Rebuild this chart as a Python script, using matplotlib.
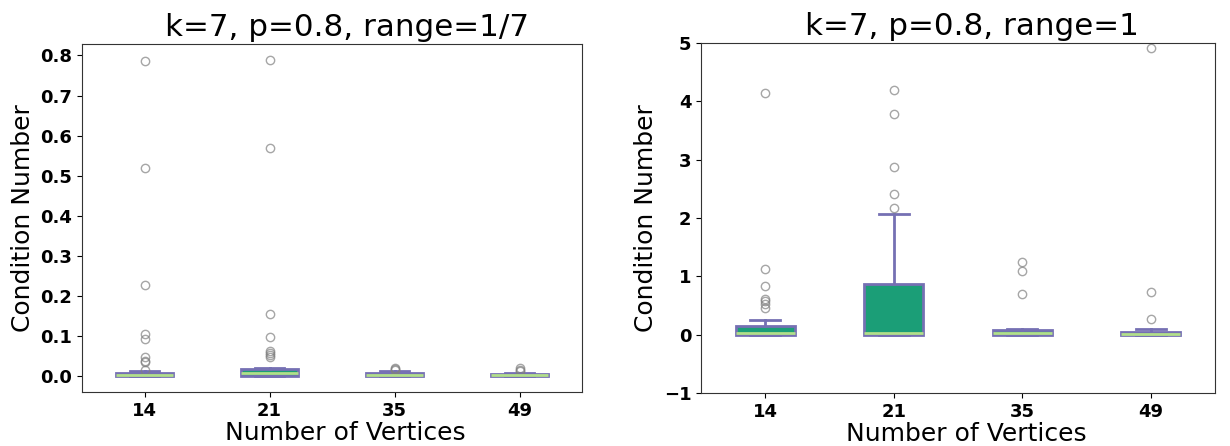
import matplotlib
matplotlib.use('Agg')
import matplotlib.pyplot as plt

vertices = ['14', '21', '35', '49']

# left panel, range=1/7
left_q1 = [0.0, 0.0, 0.0, 0.0]
left_med = [0.002, 0.009, 0.002, 0.002]
left_q3 = [0.007, 0.018, 0.007, 0.005]
left_lo = [0.0, 0.0, 0.0, 0.0]
left_hi = [0.012, 0.021, 0.012, 0.009]
left_fliers = [
    [0.787, 0.519, 0.228, 0.104, 0.092, 0.048, 0.039, 0.035, 0.015],
    [0.789, 0.569, 0.156, 0.098, 0.062, 0.057, 0.052, 0.048],
    [0.021, 0.018, 0.016],
    [0.020, 0.016, 0.013],
]

# right panel, range=1
right_q1 = [0.0, -0.01, 0.0, 0.0]
right_med = [0.02, 0.03, 0.02, 0.01]
right_q3 = [0.14, 0.86, 0.08, 0.04]
right_lo = [0.0, -0.01, 0.0, 0.0]
right_hi = [0.25, 2.06, 0.10, 0.10]
right_fliers = [
    [4.15, 1.12, 0.84, 0.61, 0.58, 0.53, 0.45],
    [4.20, 3.79, 2.87, 2.41, 2.17],
    [1.25, 1.09, 0.70],
    [4.92, 0.73, 0.26],
]

def make_stats(q1, med, q3, lo, hi, fl):
    out = []
    for i in range(len(vertices)):
        out.append(dict(q1=q1[i], med=med[i], q3=q3[i], whislo=lo[i],
                        whishi=hi[i], fliers=fl[i], label=vertices[i]))
    return out

edge = '#7570b3'
fill = '#1b9e77'
medc = '#b2df8a'

def draw(ax, stats, title, tx, lx):
    ax.bxp(stats, widths=0.46, capwidths=0.23, patch_artist=True,
           boxprops=dict(facecolor=fill, edgecolor=edge, linewidth=2),
           medianprops=dict(color=medc, linewidth=2),
           whiskerprops=dict(color=edge, linewidth=2),
           capprops=dict(color=edge, linewidth=2),
           flierprops=dict(marker='o', markerfacecolor='none',
                           markeredgecolor='grey', alpha=0.7, markersize=6))
    ax.set_title(title, fontsize=22.3, x=tx)
    ax.set_xlabel('Number of Vertices', fontsize=18, labelpad=1, x=lx)
    ax.set_ylabel('Condition Number', fontsize=18)
    for lab in ax.get_xticklabels() + ax.get_yticklabels():
        lab.set_fontweight('bold')
        lab.set_fontsize(13)
    for s in ax.spines.values():
        s.set_color('#333333')

fig = plt.figure(figsize=(12.3, 4.46), dpi=100)
W, H = 1230.0, 446.0
ax1 = fig.add_axes([82 / W, 1 - 392 / H, 500 / W, 348 / H])
ax2 = fig.add_axes([701 / W, 1 - 393 / H, 514 / W, 350 / H])

draw(ax1, make_stats(left_q1, left_med, left_q3, left_lo, left_hi, left_fliers),
     'k=7, p=0.8, range=1/7', 0.53, 0.527)
ax1.set_yticks([0.0, 0.1, 0.2, 0.3, 0.4, 0.5, 0.6, 0.7, 0.8])
ax1.set_yticklabels(['0.0', '0.1', '0.2', '0.3', '0.4', '0.5', '0.6', '0.7', '0.8'],
                    fontweight='bold', fontsize=13)

draw(ax2, make_stats(right_q1, right_med, right_q3, right_lo, right_hi, right_fliers),
     'k=7, p=0.8, range=1', 0.527, 0.516)
ax2.set_ylim(-1, 5)
ax2.set_yticks([-1, 0, 1, 2, 3, 4, 5])
ax2.set_yticklabels(['\u22121', '0', '1', '2', '3', '4', '5'],
                    fontweight='bold', fontsize=13)

fig.savefig('out.png', dpi=100)
